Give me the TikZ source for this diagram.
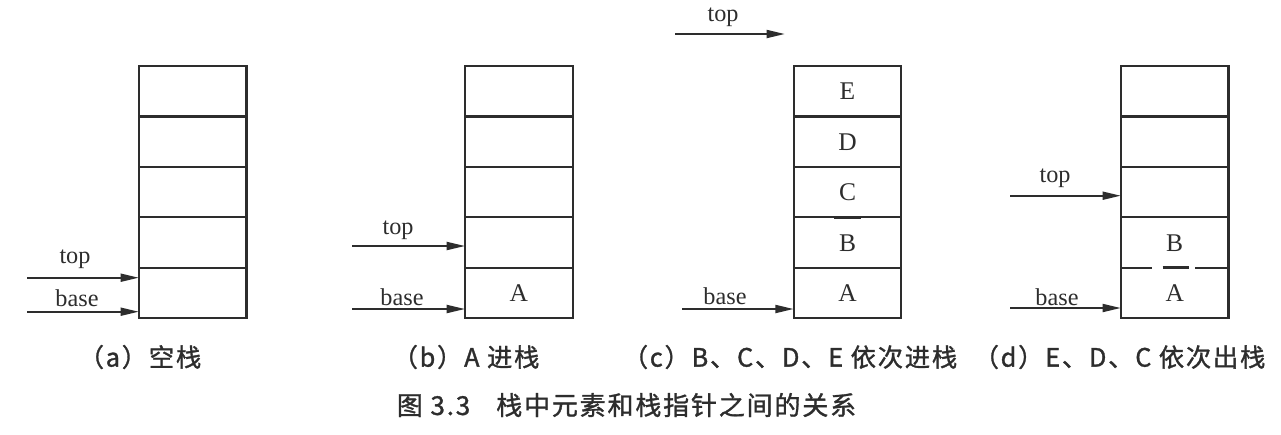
\documentclass[tikz,border=0pt]{standalone}
\usepackage{fontspec}
\setmainfont{Liberation Serif}
\newfontfamily\cjk{Noto Sans CJK SC}[LetterSpace=7,FakeBold=1.2]
\usetikzlibrary{arrows.meta}
\definecolor{ink}{RGB}{45,45,45}
\begin{document}
\begin{tikzpicture}[x=0.02cm,y=-0.02cm,
  cell/.style={draw=ink, line width=1.25pt, minimum width=2.15cm, minimum height=1.008cm,
    inner sep=0pt, outer sep=0pt, text height=1em, text depth=0pt,
    font=\fontsize{14.5pt}{15pt}\selectfont, text=ink},
  ptr/.style={draw=ink, line width=1.25pt, -{Triangle[length=10.5pt,width=4.5pt]}},
  lbl/.style={font=\fontsize{13.8pt}{14pt}\selectfont, text=ink, inner sep=0pt},
  captxt/.style={font=\cjk\fontsize{14.4pt}{16pt}\selectfont, text=ink, inner sep=0pt},
  blot/.style={draw=ink, line width=1.8pt}
]
\useasboundingbox[fill=white] (0,0) rectangle (1281,434);

% ---- stack (a) ----
\foreach \k/\y in {1/91.2,2/141.6,3/192,4/242.4,5/292.8}
  \node[cell] (a\k) at (192.7,\y) {};
% ---- stack (b) ----
\foreach \k/\y in {1/91.2,2/141.6,3/192,4/242.4}
  \node[cell] (b\k) at (518.9,\y) {};
\node[cell] (b5) at (518.9,292.8) {A};
% ---- stack (c) ----
\node[cell] (c1) at (847.5,91.2) {E};
\node[cell] (c2) at (847.5,141.6) {D};
\node[cell] (c3) at (847.5,192) {C};
\node[cell] (c4) at (847.5,242.4) {B};
\node[cell] (c5) at (847.5,292.8) {A};
% ---- stack (d) ----
\node[cell] (d1) at (1174.7,91.2) {};
\node[cell] (d2) at (1174.7,141.6) {};
\node[cell] (d3) at (1174.7,192) {};
\node[cell] (d4) at (1174.7,242.4) {B};
\node[cell] (d5) at (1174.7,292.8) {A};

% small dark marks on the dividing lines
\draw[blot] ([xshift=-0.28cm]c1.south) -- ([xshift=0.26cm]c1.south);
\draw[blot] ([xshift=-0.28cm]c3.south) -- ([xshift=0.26cm]c3.south);
\draw[white, line width=1.6pt] ([xshift=-0.45cm]d4.south) -- ([xshift=0.4cm]d4.south);
\draw[blot] ([xshift=-0.24cm]d4.south) -- ([xshift=0.28cm]d4.south);

% ---- pointers (a) ----
\coordinate (atop) at (27,277.7);
\coordinate (abase) at (27,311.7);
\draw[ptr] (atop) -- (atop -| a5.west);
\draw[ptr] (abase) -- (abase -| a5.west);
\node[lbl] (atl) at (75,259) {top};
\node[lbl] (abl) at (77,298) {base};
% ---- pointers (b) ----
\coordinate (btop) at (352,246);
\coordinate (bbase) at (352,309);
\draw[ptr] (btop) -- (btop -| b4.west);
\draw[ptr] (bbase) -- (bbase -| b5.west);
\node[lbl] (btl) at (398,230) {top};
\node[lbl] (bbl) at (402,297) {base};
% ---- pointers (c) ----
\coordinate (ctop) at (675,34);
\coordinate (ctopend) at (785,34);
\coordinate (cbase) at (682,309);
\draw[ptr] (ctop) -- (ctopend);
\draw[ptr] (cbase) -- (cbase -| c5.west);
\node[lbl] (ctl) at (723,17) {top};
\node[lbl] (cbl) at (725,296) {base};
% ---- pointers (d) ----
\coordinate (dtop) at (1010,195.7);
\coordinate (dbase) at (1010,308);
\draw[ptr] (dtop) -- (dtop -| d3.west);
\draw[ptr] (dbase) -- (dbase -| d5.west);
\node[lbl] (dtl) at (1055,178) {top};
\node[lbl] (dbl) at (1057,297) {base};

% ---- captions ----
\node[captxt] (capa) at (140,357) {（a）空栈};
\node[captxt] (capb) at (466,357) {（b）A 进栈};
\node[captxt] (capc) at (790,357) {（c）B、C、D、E 依次进栈};
\node[captxt] (capd) at (1119.5,357) {（d）E、D、C 依次出栈};
\node[captxt, font=\cjk\fontsize{14.8pt}{16pt}\selectfont] (title) at (626.5,405) {图 3.3\hspace{1em}栈中元素和栈指针之间的关系};
\end{tikzpicture}
\end{document}
